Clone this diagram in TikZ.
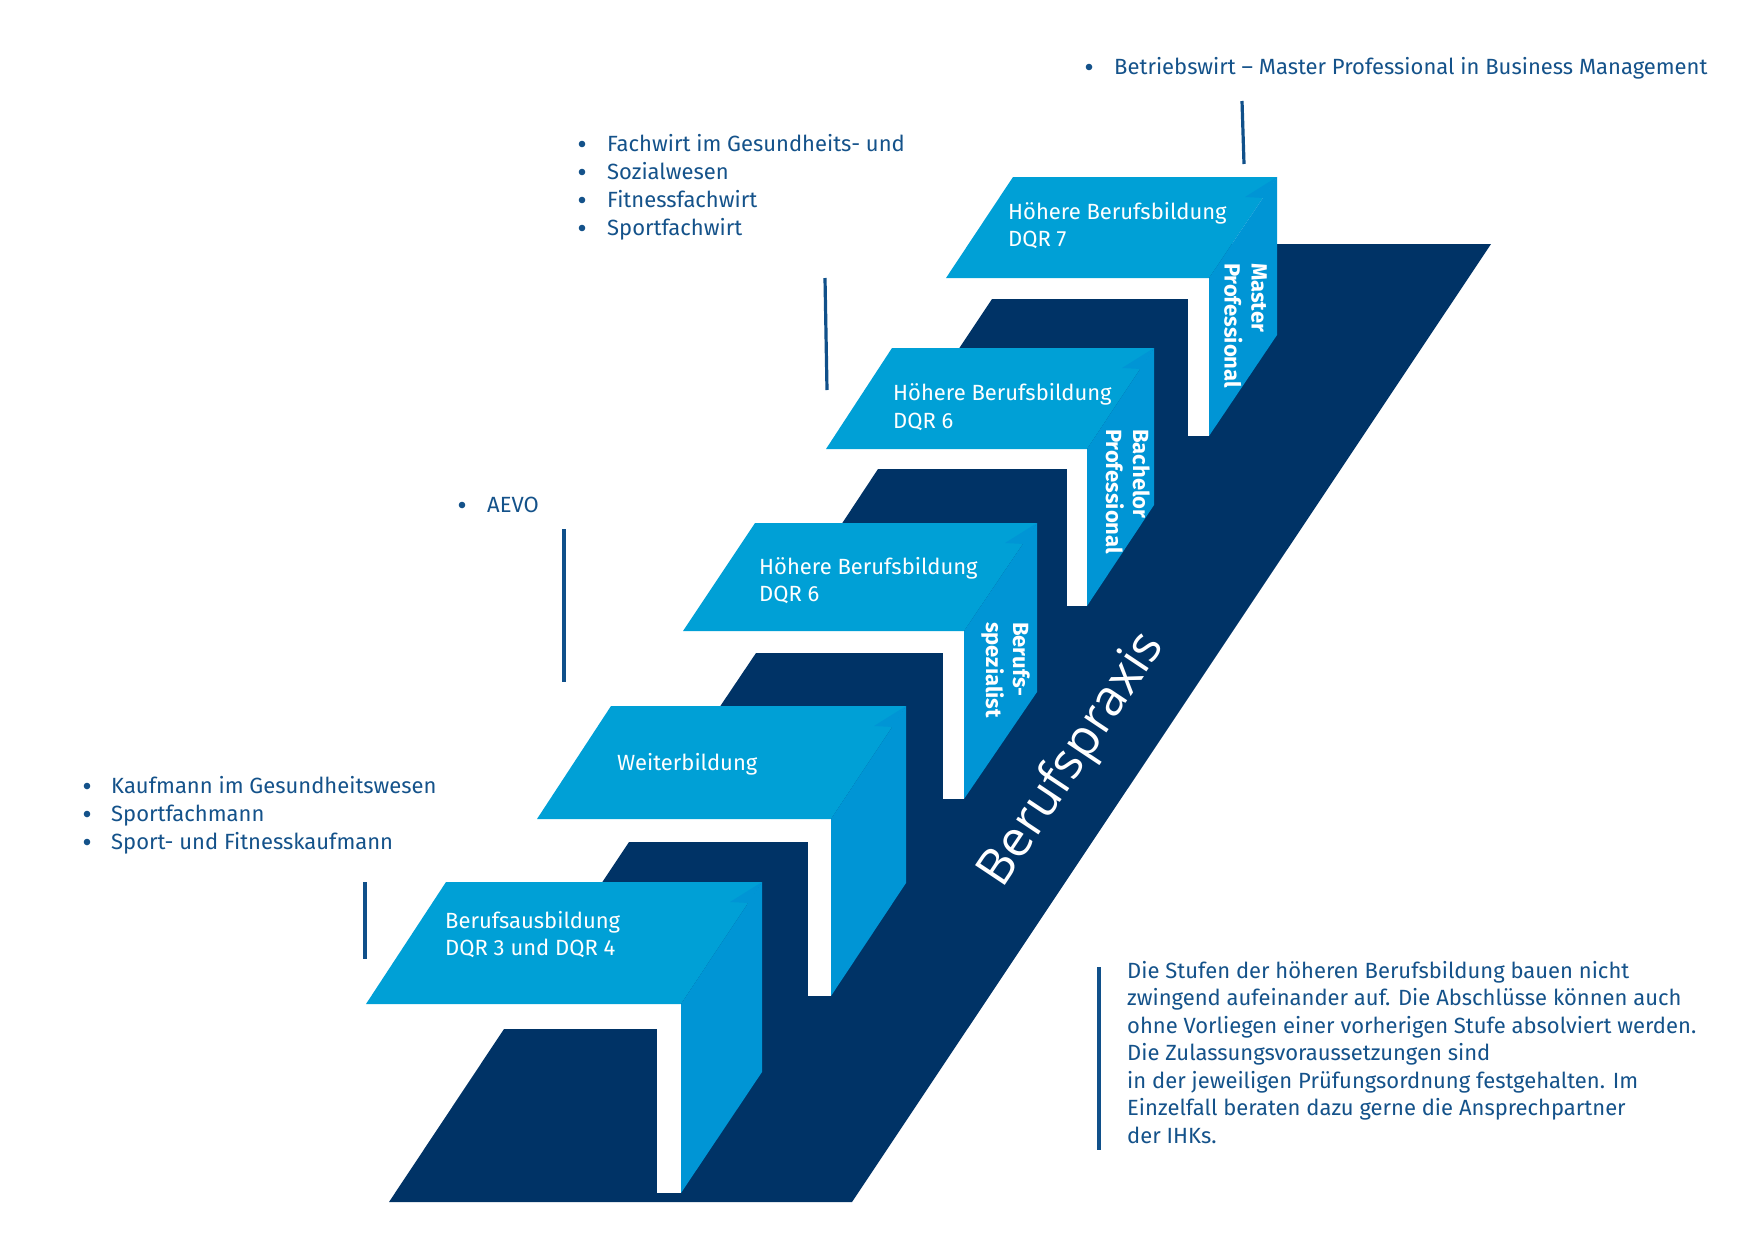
\documentclass[tikz,border=0pt]{standalone}
\usepackage{fontspec}
\setmainfont{Fira Sans}
\newfontfamily\praxisfont{Open Sans}
\definecolor{navy}{RGB}{0,51,102}
\definecolor{topblue}{RGB}{0,160,214}
\definecolor{sideblue}{RGB}{0,149,213}
\definecolor{txtblue}{RGB}{20,82,138}
\definecolor{lineblue}{RGB}{16,80,138}
\begin{document}
\begin{tikzpicture}[x=1pt,y=-1pt,
  toplbl/.style={text=white, font=\fontsize{22}{27}\selectfont, inner sep=0pt, anchor=base west},
  sidelbl/.style={text=white, font=\fontsize{22}{27}\selectfont\bfseries, inner sep=0pt, align=left, rotate=-90, anchor=north west},
  item/.style={text=txtblue, font=\fontsize{22}{28}\selectfont, inner sep=0pt, anchor=base west},
  para/.style={text=txtblue, font=\fontsize{22}{28}\selectfont, inner sep=0pt, anchor=base west},
  vline/.style={draw=lineblue, line width=3.2pt},
  dot/.style={fill=txtblue},
  praxis/.style={text=white, font=\praxisfont\fontsize{50}{50}\selectfont, inner sep=0pt, rotate=56.3}
]
\useasboundingbox (0,0) rectangle (1748,1240);
\fill[white] (0,0) rectangle (1748,1240);
% dark band with staircase
\fill[navy] (389,1202) -- (852,1202) -- (1491,244) -- (1230,244) -- (992,299) -- (958,350)
  -- (878,469) -- (839,528) -- (756,653) -- (719,708) -- (629,842) -- (601,884)
  -- (504,1029) -- cycle;
% steps
\foreach \xt/\yt/\xr/\xs/\xb/\yb/\ysr/\ysl/\xw/\yd in {
 446/882/762/681/366/1004/1072/1193/657/1029,
 611/706/906/831/537/819/883/996/808/842,
 755/523/1037/964/683/631/692/799/943/653,
 892/348/1154/1087/826/449/505/606/1067/469,
 1013/177/1277/1209/946/278/335/436/1188/299}{
 \fill[white] (\xb,\yb) rectangle (\xs,\yd);
 \fill[white] (\xw,\yb) rectangle (\xs,\ysl);
 \fill[topblue] (\xt,\yt) -- (\xr,\yt) -- (\xs,\yb) -- (\xb,\yb) -- cycle;
 \fill[sideblue] (\xs,\yb) -- (\xr,\yt) -- (\xr,\ysr) -- (\xs,\ysl) -- cycle;
 \fill[sideblue] (\xr,\yt) -- ({\xr-32},{\yt+20}) -- ({\xr-13},{\yt+21}) -- cycle;
}
% step labels
\node[toplbl] (s1a) at (445,928) {Berufsausbildung};
\node[toplbl] (s1b) at (445,955) {DQR 3 und DQR 4};
\node[toplbl] (s2a) at (617,770) {Weiterbildung};
\node[toplbl] (s3a) at (759,574) {Höhere Berufsbildung};
\node[toplbl] (s3b) at (759,601) {DQR 6};
\node[toplbl] (s4a) at (893,400) {Höhere Berufsbildung};
\node[toplbl] (s4b) at (893,428) {DQR 6};
\node[toplbl] (s5a) at (1008,219) {Höhere Berufsbildung};
\node[toplbl] (s5b) at (1008,246) {DQR 7};
% side labels
\node[sidelbl] (m5) at (1267,263) {Master\\Professional};
\node[sidelbl] (m4) at (1150,429) {Bachelor\\Professional};
\node[sidelbl] (m3) at (1030,622) {Berufs-\\spezialist};
% band label
\node[praxis] (bp) at (1073,760) {Berufspraxis};
% bullets
\foreach \bx/\by in {1089/67, 582/144, 582/172, 582/200, 582/228, 462/505, 87/786, 87/814, 87/842}
  \fill[dot] (\bx,\by) circle (3.3);
% lists
\node[item] (t1) at (1114,74) {Betriebswirt – Master Professional in Business Management};
\node[item] (f1) at (607,151) {Fachwirt im Gesundheits- und};
\node[item] (f2) at (607,179) {Sozialwesen};
\node[item] (f3) at (607,207) {Fitnessfachwirt};
\node[item] (f4) at (607,235) {Sportfachwirt};
\node[item] (a1) at (487,512) {AEVO};
\node[item] (k1) at (111,793) {Kaufmann im Gesundheitswesen};
\node[item] (k2) at (111,821) {Sportfachmann};
\node[item] (k3) at (111,849) {Sport- und Fitnesskaufmann};
% paragraph
\foreach \t [count=\n] in {Die Stufen der höheren Berufsbildung bauen nicht,
 zwingend aufeinander auf. Die Abschlüsse können auch,
 ohne Vorliegen einer vorherigen Stufe absolviert werden.,
 Die Zulassungsvoraussetzungen sind,
 in der jeweiligen Prüfungsordnung festgehalten. Im,
 Einzelfall beraten dazu gerne die Ansprechpartner,
 der IHKs.}{
 \node[para] (p\n) at (1127,{978+27.5*(\n-1)}) {\t};
}
% vertical lines
\coordinate (l1a) at (1242,101); \coordinate (l1b) at (1244,164);
\coordinate (l2a) at (825,278);  \coordinate (l2b) at (827,390);
\coordinate (l3a) at (564,529);  \coordinate (l3b) at (564,682);
\coordinate (l4a) at (365,882);  \coordinate (l4b) at (365,959);
\coordinate (l5a) at (1099,967); \coordinate (l5b) at (1099,1150);
\draw[vline] (l1a) -- (l1b);
\draw[vline] (l2a) -- (l2b);
\draw[vline] (l3a) -- (l3b);
\draw[vline] (l4a) -- (l4b);
\draw[vline] (l5a) -- (l5b);
\end{tikzpicture}
\end{document}
